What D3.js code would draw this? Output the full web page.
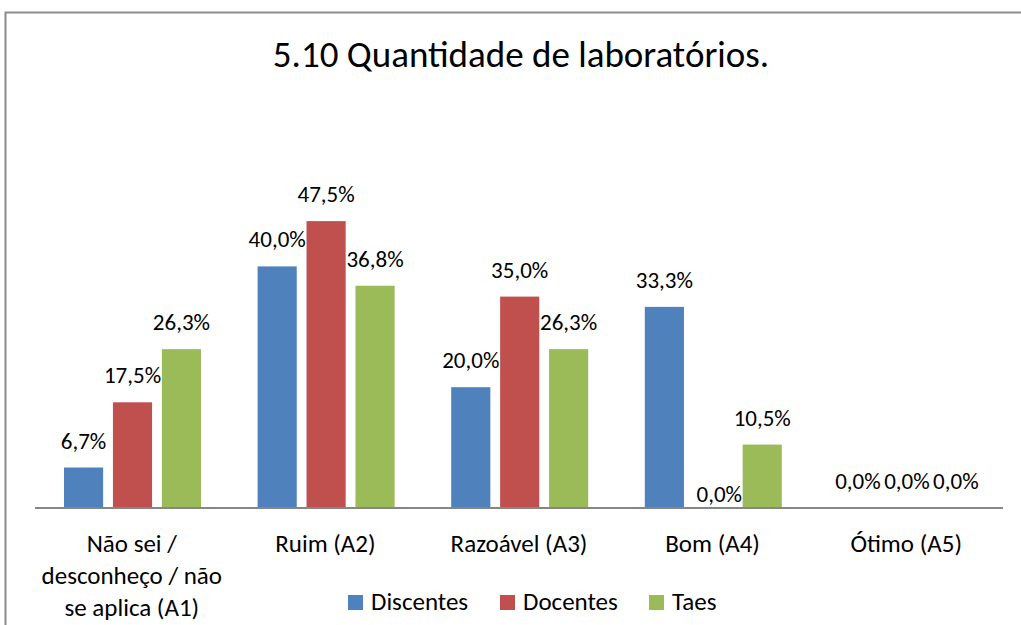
<!DOCTYPE html>
<html>
<head>
<meta charset="utf-8">
<script src="https://cdn.jsdelivr.net/npm/d3@7"></script>
<style>
  html, body { margin: 0; padding: 0; background: #fff; }
  svg { display: block; font-family: Carlito, Lato, "Open Sans", sans-serif; }
</style>
</head>
<body>
<svg id="chart" width="1021" height="625"></svg>
<script>
// Survey results: "Quantidade de laboratórios", percentage per group
const categories = [
  ["Não sei /", "desconheço / não", "se aplica (A1)"],
  ["Ruim (A2)"],
  ["Razoável (A3)"],
  ["Bom (A4)"],
  ["Ótimo (A5)"]
];
const seriesNames = ["Discentes", "Docentes", "Taes"];
const discentes = [6.7, 40.0, 20.0, 33.3, 0.0];
const docentes  = [17.5, 47.5, 35.0, 0.0, 0.0];
const taes      = [26.3, 36.8, 26.3, 10.5, 0.0];
const colors = ["#4F81BD", "#C0504D", "#9BBB59"];
const title = "5.10 Quantidade de laboratórios.";

const series = [discentes, docentes, taes];
const svg = d3.select("#chart");

// outer chart frame
svg.append("rect")
  .attr("x", 5.5).attr("y", 12.5)
  .attr("width", 1100).attr("height", 700)
  .attr("fill", "#fff")
  .attr("stroke", "#8c8c8c").attr("stroke-width", 2);

const plot = { left: 35, right: 1003, top: 206, bottom: 508 };

const x0 = d3.scaleBand()
  .domain(d3.range(categories.length))
  .range([plot.left, plot.right])
  .paddingInner(0).paddingOuter(0);

const x1 = d3.scaleBand()
  .domain(d3.range(series.length))
  .range([29, 29 + 137])
  .paddingInner(0.2).paddingOuter(0);

const y = d3.scaleLinear().domain([0, 50]).range([plot.bottom, plot.top]);

// title
svg.append("text")
  .attr("x", 521).attr("y", 67)
  .attr("text-anchor", "middle")
  .attr("font-size", 37)
  .attr("fill", "#000")
  .text(title);

// bars
const groups = svg.append("g").selectAll("g")
  .data(categories.map((c, i) => i))
  .join("g")
  .attr("transform", i => `translate(${x0(i)},0)`);

groups.selectAll("rect")
  .data(i => series.map((s, k) => ({ k, v: s[i] })))
  .join("rect")
  .attr("x", d => x1(d.k))
  .attr("width", x1.bandwidth())
  .attr("y", d => y(d.v))
  .attr("height", d => y(0) - y(d.v))
  .attr("fill", d => colors[d.k]);

// value labels (the lone zero in "Bom" sits lower, beside its neighbours)
const fmt = v => v.toFixed(1).replace(".", ",") + "%";
groups.selectAll("text")
  .data(i => series.map((s, k) => ({ i, k, v: s[i] })))
  .join("text")
  .attr("x", d => x1(d.k) + x1.bandwidth() / 2 + (d.v === 0 && d.i === 3 ? 6 : 0))
  .attr("y", d => y(d.v) - (d.v === 0 && d.i === 3 ? 6 : 19))
  .attr("text-anchor", "middle")
  .attr("font-size", 23)
  .attr("fill", "#000")
  .text(d => fmt(d.v));

// category axis
svg.append("line")
  .attr("x1", plot.left).attr("x2", plot.right)
  .attr("y1", plot.bottom).attr("y2", plot.bottom)
  .attr("stroke", "#868686").attr("stroke-width", 2);

svg.append("g").selectAll("text")
  .data(categories)
  .join("text")
  .attr("x", (c, i) => x0(i) + x0.bandwidth() / 2)
  .attr("y", 552)
  .attr("text-anchor", "middle")
  .attr("font-size", 25)
  .attr("fill", "#000")
  .selectAll("tspan")
  .data(c => c)
  .join("tspan")
  .attr("x", function () { return this.parentNode.getAttribute("x"); })
  .attr("dy", (t, j) => j === 0 ? 0 : 32)
  .text(t => t);

// legend
const legendX = [348, 500, 649];
const legend = svg.append("g").selectAll("g")
  .data(seriesNames)
  .join("g")
  .attr("transform", (n, k) => `translate(${legendX[k]},0)`);
legend.append("rect")
  .attr("x", 0).attr("y", 595)
  .attr("width", 15).attr("height", 15)
  .attr("fill", (n, k) => colors[k]);
legend.append("text")
  .attr("x", 23).attr("y", 610)
  .attr("font-size", 25)
  .attr("fill", "#000")
  .text(n => n);
</script>
</body>
</html>
